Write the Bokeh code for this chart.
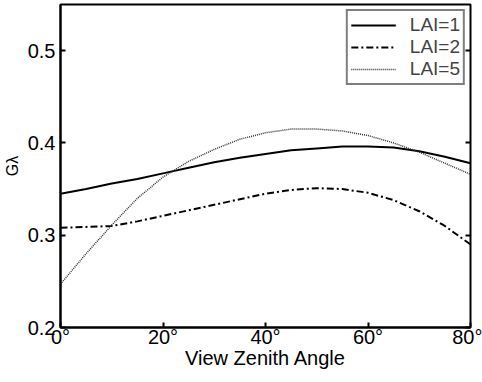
from bokeh.plotting import figure
from bokeh.models import FixedTicker, LinearAxis, Legend, LegendItem, Range1d
from bokeh.embed import file_html
from bokeh.resources import INLINE

angles = [0, 5, 10, 15, 20, 25, 30, 35, 40, 45, 50, 55, 60, 65, 70, 75, 80]
lai1 = [0.345, 0.350, 0.356, 0.361, 0.367, 0.373, 0.379, 0.384, 0.388, 0.392, 0.394, 0.396, 0.396, 0.395, 0.391, 0.385, 0.378]
lai2 = [0.308, 0.309, 0.310, 0.315, 0.321, 0.327, 0.333, 0.339, 0.345, 0.349, 0.351, 0.350, 0.346, 0.338, 0.326, 0.310, 0.290]
lai5 = [0.247, 0.280, 0.311, 0.340, 0.363, 0.380, 0.393, 0.404, 0.411, 0.415, 0.415, 0.413, 0.408, 0.400, 0.390, 0.378, 0.366]
x_ticks = [0, 20, 40, 60, 80]
x_tick_labels = ["0°", "20°", "40°", "60°", "80°"]
y_ticks = [0.2, 0.3, 0.4, 0.5]
series_names = ["LAI=1", "LAI=2", "LAI=5"]

FONT = "Liberation Sans"

p = figure(width=482, height=382, output_backend="svg", toolbar_location=None,
           x_range=Range1d(0, 80), y_range=Range1d(0.2, 0.55))
p.min_border_left = 59
p.min_border_right = 12
p.min_border_top = 4
p.min_border_bottom = 55
p.background_fill_color = "white"
p.border_fill_color = "white"
p.grid.visible = False
p.outline_line_color = "black"
p.outline_line_width = 2

r1 = p.line(angles, lai1, line_color="black", line_width=2)
r2 = p.line(angles, lai2, line_color="black", line_width=2, line_dash="7 3 2 3")
r3 = p.line(angles, lai5, line_color="#333333", line_width=1.5, line_dash="1 1")

for ax in [p.xaxis[0], p.yaxis[0]]:
    ax.major_tick_in = 5
    ax.major_tick_out = 0
    ax.minor_tick_in = 0
    ax.minor_tick_out = 0
    ax.axis_line_color = "black"
    ax.axis_line_width = 2
    ax.major_tick_line_color = "black"
    ax.major_tick_line_width = 2
    ax.major_label_text_font = FONT
    ax.major_label_text_font_size = "20px"
    ax.major_label_text_color = "black"
    ax.axis_label_text_font = FONT
    ax.axis_label_text_font_style = "normal"
    ax.axis_label_text_color = "black"

p.xaxis[0].ticker = FixedTicker(ticks=x_ticks)
p.xaxis[0].major_label_overrides = {t: l for t, l in zip(x_ticks, x_tick_labels)}
p.xaxis[0].axis_label = "View Zenith Angle"
p.xaxis[0].axis_label_text_font_size = "20px"
p.xaxis[0].axis_label_standoff = -4
p.xaxis[0].major_label_standoff = -2

p.yaxis[0].ticker = FixedTicker(ticks=y_ticks)
p.yaxis[0].axis_label = "Gλ"
p.yaxis[0].axis_label_text_font_size = "16px"
p.yaxis[0].axis_label_standoff = 4
p.yaxis[0].major_label_standoff = 5

right = LinearAxis(ticker=FixedTicker(ticks=y_ticks), major_label_text_font_size="0px",
                   major_tick_in=5, major_tick_out=0, minor_tick_in=0, minor_tick_out=0,
                   axis_line_color=None, major_tick_line_width=2, major_label_text_alpha=0)
p.add_layout(right, "right")
p.min_border_right = 12

legend = Legend(items=[LegendItem(label=series_names[0], renderers=[r1]),
                       LegendItem(label=series_names[1], renderers=[r2]),
                       LegendItem(label=series_names[2], renderers=[r3])],
                location="top_right")
legend.label_text_font = FONT
legend.label_text_font_size = "19px"
legend.border_line_color = "black"
legend.border_line_width = 2
legend.margin = 5
legend.padding = 3
legend.spacing = 0
legend.glyph_width = 45
legend.label_height = 20
legend.glyph_height = 20
legend.label_standoff = 14
p.add_layout(legend)

open("out.html", "w").write(file_html(p, INLINE))
